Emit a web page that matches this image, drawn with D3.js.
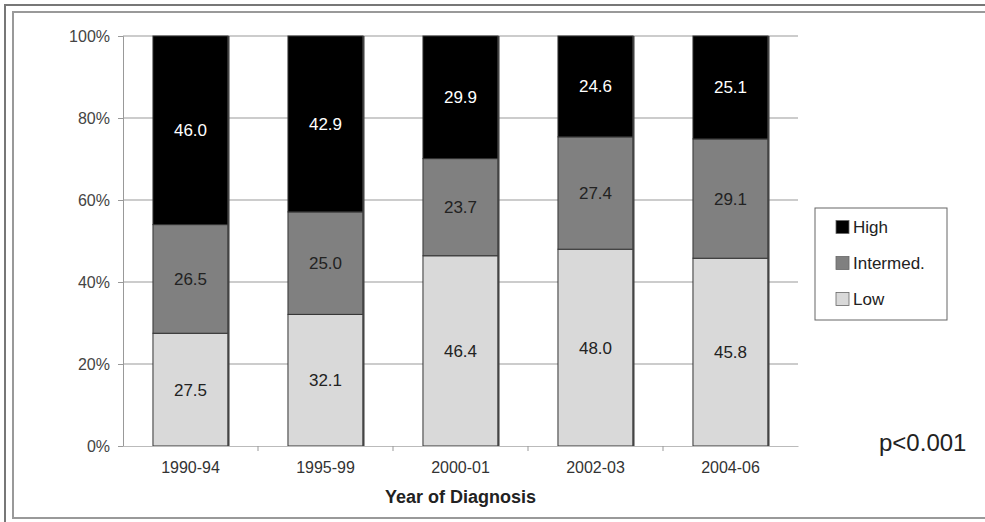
<!DOCTYPE html>
<html>
<head>
<meta charset="utf-8">
<script src="https://cdn.jsdelivr.net/npm/d3@7"></script>
<style>
  body { margin: 0; background: #fff; }
  text { font-family: "Liberation Sans", Arial, sans-serif; }
</style>
</head>
<body>
<svg id="chart" width="985" height="522"></svg>
<script>
// values (percent of cases)
const periods = ['1990-94', '1995-99', '2000-01', '2002-03', '2004-06'];
const low = [27.5, 32.1, 46.4, 48.0, 45.8];
const intermed = [26.5, 25.0, 23.7, 27.4, 29.1];
const high = [46.0, 42.9, 29.9, 24.6, 25.1];
const yTicks = [0, 20, 40, 60, 80, 100];

const series = [
  { key: 'Low', values: low, fill: '#d9d9d9', text: '#222' },
  { key: 'Intermed.', values: intermed, fill: '#808080', text: '#222' },
  { key: 'High', values: high, fill: '#000', text: '#fff' }
];

const svg = d3.select('#chart');

// double frame round the figure (cropped on the right)
svg.append('rect').attr('x', 5).attr('y', 5).attr('width', 1000).attr('height', 530)
  .attr('fill', 'none').attr('stroke', '#777').attr('stroke-width', 2);
svg.append('rect').attr('x', 13).attr('y', 12).attr('width', 990).attr('height', 506)
  .attr('fill', 'none').attr('stroke', '#999').attr('stroke-width', 2);

const m = { left: 123, top: 36, right: 798, bottom: 446 };

const x = d3.scaleBand().domain(periods).range([m.left, m.right]).paddingInner(0.444).paddingOuter(0.222);
const y = d3.scaleLinear().domain([0, 100]).range([m.bottom, m.top]);

// gridlines
svg.append('g')
  .selectAll('line')
  .data(yTicks.filter(d => d > 0))
  .join('line')
  .attr('x1', m.left).attr('x2', m.right)
  .attr('y1', d => y(d)).attr('y2', d => y(d))
  .attr('stroke', '#999').attr('stroke-width', 1.2);

// stacked bars
const stack = d3.stack().keys([0, 1, 2]).value((d, k) => series[k].values[d]);
const layers = stack(d3.range(periods.length));

layers.forEach((layer, k) => {
  const s = series[k];
  const g = svg.append('g');
  g.selectAll('rect')
    .data(layer)
    .join('rect')
    .attr('x', (d, i) => x(periods[i]))
    .attr('y', d => y(d[1]))
    .attr('width', x.bandwidth())
    .attr('height', d => y(d[0]) - y(d[1]))
    .attr('fill', s.fill)
    .attr('stroke', '#333')
    .attr('stroke-width', 1);
  g.selectAll('text')
    .data(layer)
    .join('text')
    .attr('x', (d, i) => x(periods[i]) + x.bandwidth() / 2)
    .attr('y', d => y((d[0] + d[1]) / 2))
    .attr('dy', '0.35em')
    .attr('text-anchor', 'middle')
    .attr('font-size', 17)
    .attr('fill', s.text)
    .text((d, i) => s.values[i].toFixed(1));
});

// darker right edge on each bar
svg.append('g')
  .selectAll('line')
  .data(periods)
  .join('line')
  .attr('x1', d => x(d) + x.bandwidth() + 0.5).attr('x2', d => x(d) + x.bandwidth() + 0.5)
  .attr('y1', y(100)).attr('y2', y(0))
  .attr('stroke', '#444').attr('stroke-width', 2);

// y axis
const yAxis = svg.append('g')
  .attr('transform', `translate(${m.left},0)`)
  .call(d3.axisLeft(y).tickValues(yTicks).tickFormat(d => d + '%').tickSize(5).tickPadding(8));
yAxis.select('.domain').attr('stroke', '#999');
yAxis.selectAll('.tick line').attr('stroke', '#999');
yAxis.selectAll('text').attr('font-size', 16).attr('fill', '#444')
  .style('font-family', '"Liberation Sans", Arial, sans-serif');

// x axis
const xAxis = svg.append('g')
  .attr('transform', `translate(0,${m.bottom})`)
  .call(d3.axisBottom(x).tickSize(0).tickPadding(16));
xAxis.select('.domain').attr('stroke', '#bbb');
xAxis.selectAll('text').attr('font-size', 16).attr('fill', '#333')
  .style('font-family', '"Liberation Sans", Arial, sans-serif');
// small tick marks between the categories
svg.append('g')
  .selectAll('line')
  .data(periods.slice(1))
  .join('line')
  .attr('x1', d => x(d) - x.step() * x.paddingInner() / 2)
  .attr('x2', d => x(d) - x.step() * x.paddingInner() / 2)
  .attr('y1', m.bottom).attr('y2', m.bottom + 5)
  .attr('stroke', '#999');

svg.append('text')
  .attr('x', (m.left + m.right) / 2)
  .attr('y', 503)
  .attr('text-anchor', 'middle')
  .attr('font-size', 18)
  .attr('font-weight', 'bold')
  .attr('fill', '#222')
  .text('Year of Diagnosis');

// legend
const legend = svg.append('g').attr('transform', 'translate(815,208)');
legend.append('rect').attr('width', 132).attr('height', 112)
  .attr('fill', '#fff').attr('stroke', '#666').attr('stroke-width', 1);
const items = series.slice().reverse();
const li = legend.selectAll('g.item')
  .data(items)
  .join('g')
  .attr('class', 'item')
  .attr('transform', (d, i) => `translate(21,${19 + i * 36})`);
li.append('rect').attr('y', -6.5).attr('width', 13).attr('height', 13)
  .attr('fill', d => d.fill).attr('stroke', '#666').attr('stroke-width', 0.8);
li.append('text').attr('x', 17).attr('dy', '0.35em')
  .attr('font-size', 17).attr('fill', '#222')
  .text(d => d.key);

svg.append('text')
  .attr('x', 879).attr('y', 451)
  .attr('font-size', 24).attr('fill', '#222')
  .text('p<0.001');
</script>
</body>
</html>
